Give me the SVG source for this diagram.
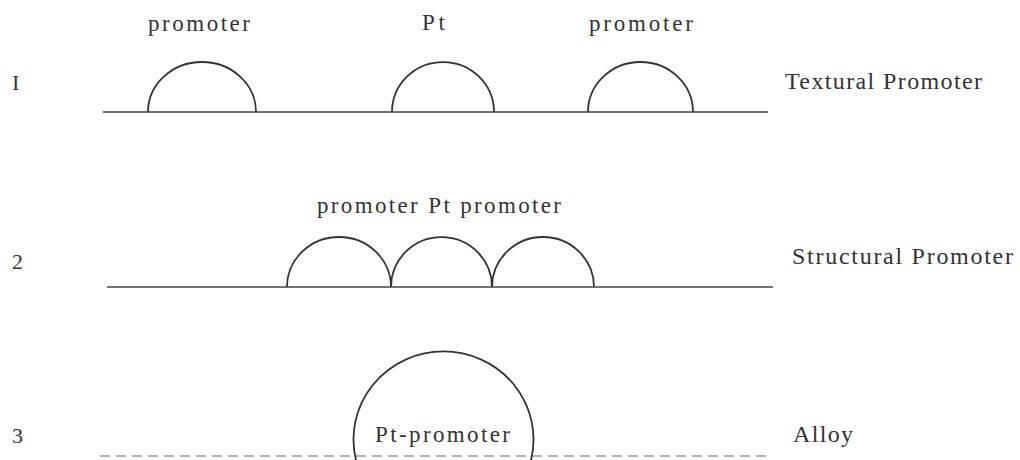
<svg xmlns="http://www.w3.org/2000/svg" width="1020" height="460" viewBox="0 0 1020 460">
<style>
text{font-family:"Liberation Serif","Times New Roman",serif;fill:#333;font-size:23px}
.lbl{font-size:24px}
.num{font-size:22px}
.base{stroke:#444;stroke-width:1.6;fill:none}
.dome{stroke:#333;stroke-width:1.8;fill:none}
.faint{stroke:#999;stroke-width:1.4;stroke-dasharray:10 6;fill:none}
</style>
<rect width="1020" height="460" fill="#fff"/>
<g id="row1">
  <text class="num" x="12" y="90">I</text>
  <line class="base" x1="103" y1="112" x2="768" y2="112"/>
  <g id="r1-promoter-left">
    <path class="dome" d="M148,112 A54,50 0 0 1 256,112"/>
    <text x="148" y="31" textLength="102" lengthAdjust="spacing">promoter</text>
  </g>
  <g id="r1-pt">
    <path class="dome" d="M392,112 A51,50 0 0 1 494,112"/>
    <text x="422" y="30" textLength="23" lengthAdjust="spacing">Pt</text>
  </g>
  <g id="r1-promoter-right">
    <path class="dome" d="M588,112 A52.5,50 0 0 1 693,112"/>
    <text x="589" y="31" textLength="104" lengthAdjust="spacing">promoter</text>
  </g>
  <text class="lbl" x="785" y="89" textLength="197" lengthAdjust="spacing">Textural Promoter</text>
</g>
<g id="row2">
  <text class="num" x="12" y="269">2</text>
  <line class="base" x1="107" y1="287" x2="773" y2="287"/>
  <g id="r2-domes">
    <path class="dome" d="M287,287 A52,50 0 0 1 391,287"/>
    <path class="dome" d="M391,287 A50.5,50 0 0 1 492,287"/>
    <path class="dome" d="M492,287 A51,50 0 0 1 594,287"/>
  </g>
  <text x="317" y="213" textLength="244" lengthAdjust="spacing">promoter Pt promoter</text>
  <text class="lbl" x="792" y="264" textLength="221" lengthAdjust="spacing">Structural Promoter</text>
</g>
<g id="row3">
  <text class="num" x="12" y="443">3</text>
  <line class="faint" x1="100" y1="456" x2="770" y2="456"/>
  <g id="r3-alloy">
    <path class="dome" d="M356,460 A90,88 0 1 1 531,460"/>
    <text x="375" y="442" textLength="135" lengthAdjust="spacing">Pt-promoter</text>
  </g>
  <text class="lbl" x="793" y="442" textLength="60" lengthAdjust="spacing">Alloy</text>
</g>
</svg>
